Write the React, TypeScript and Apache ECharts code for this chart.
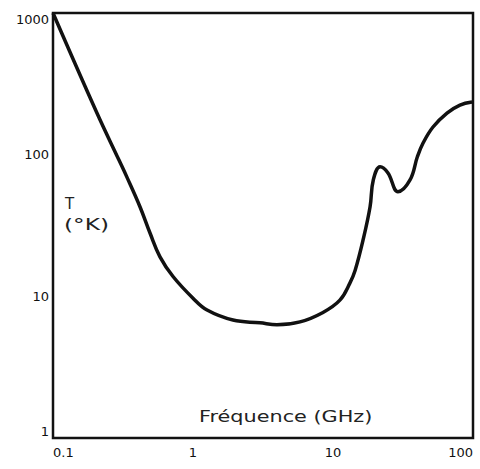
import React, { useEffect, useRef } from "react";
import * as echarts from "echarts";

const freqGHz = [0.1, 0.206, 0.296, 0.336, 0.418, 0.493, 0.581, 0.72, 1.0, 1.26, 1.93, 3.01, 3.98, 5.81, 8.48, 11.2, 13.2, 14.4, 16.4, 18.4, 19.4, 21.7, 24.7, 29.1, 35.5, 40.1, 44.0, 51.8, 65.2, 80.7, 98.4];
const tempK = [1000, 196.8, 91.6, 70.0, 42.9, 28.0, 19.0, 13.8, 9.7, 8.0, 6.8, 6.5, 6.3, 6.6, 7.7, 9.4, 12.4, 15.3, 25.0, 42.9, 66.3, 82.2, 74.3, 54.8, 66.3, 97, 120.8, 156.8, 196.6, 224, 235];
const xTicks = ["0.1", "1", "10", "100"];
const yTicks = ["1", "10", "100", "1000"];
const xTitle = "Fréquence (GHz)";
const yTitle = ["T", "(°K)"];

export default function App() {
  const ref = useRef<HTMLDivElement>(null);
  useEffect(() => {
    const chart = echarts.init(ref.current!, null, { renderer: "svg" });
    const font = "'DejaVu Sans', sans-serif";
    chart.setOption({
      animation: false,
      backgroundColor: "#fff",
      grid: {
        left: 53,
        right: 7,
        top: 13,
        bottom: 31,
        show: true,
        borderColor: "#111",
        borderWidth: 2.5,
        containLabel: false,
      },
      xAxis: {
        type: "log",
        logBase: 10,
        min: 0.1,
        max: 100,
        axisLine: { show: false },
        axisTick: { show: false },
        splitLine: { show: false },
        minorTick: { show: false },
        axisLabel: {
          color: "#111",
          fontFamily: font,
          fontSize: 13,
          margin: 8,
          alignMinLabel: "left",
          alignMaxLabel: "right",
          formatter: (v: number) => {
            const s = v < 1 ? "0.1" : String(Math.round(v));
            return xTicks.includes(s) ? s : "";
          },
        },
      },
      yAxis: {
        type: "log",
        logBase: 10,
        min: 1,
        max: 1000,
        axisLine: { show: false },
        axisTick: { show: false },
        splitLine: { show: false },
        axisLabel: {
          color: "#111",
          fontFamily: font,
          fontSize: 13,
          margin: 4,
          verticalAlignMinLabel: "bottom",
          verticalAlignMaxLabel: "top",
          formatter: (v: number) => {
            const s = String(Math.round(v));
            return yTicks.includes(s) ? s : "";
          },
        },
      },
      series: [
        {
          type: "line",
          data: freqGHz.map((f, i) => [f, tempK[i]]),
          showSymbol: false,
          smooth: 0.4,
          lineStyle: { color: "#111", width: 3.5 },
        },
      ],
      graphic: [
        {
          type: "text",
          x: 65,
          y: 196,
          style: { text: yTitle[0], font: `15px ${font}`, fill: "#222", textVerticalAlign: "top" },
        },
        {
          type: "text",
          x: 64,
          y: 218,
          scaleX: 1.55,
          style: { text: yTitle[1], font: `15px ${font}`, fill: "#222", textVerticalAlign: "top" },
        },
        {
          type: "text",
          x: 199,
          y: 408,
          scaleX: 1.3,
          style: { text: xTitle, font: `16px ${font}`, fill: "#222", textVerticalAlign: "top" },
        },
      ],
    });
    return () => chart.dispose();
  }, []);
  return <div ref={ref} style={{ position: "absolute", left: 0, top: 0, width: 480, height: 469 }} />;
}
